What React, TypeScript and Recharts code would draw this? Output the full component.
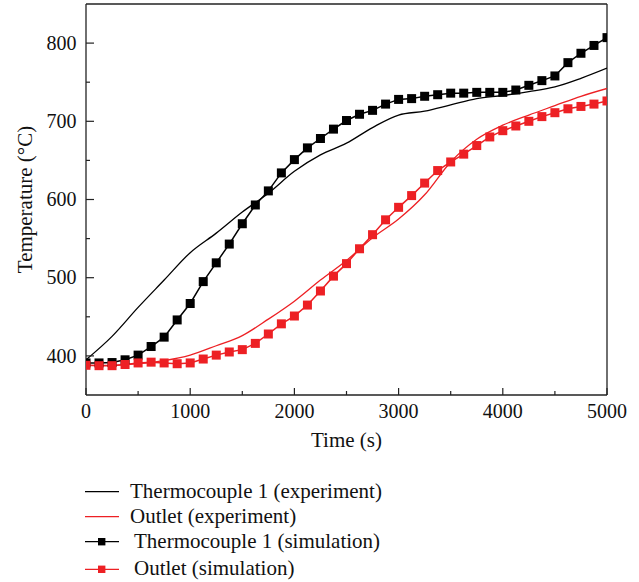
import {
  Legend,
  Line,
  LineChart,
  ReferenceLine,
  XAxis,
  YAxis,
} from 'recharts';

const FONT = '"Liberation Serif", "Times New Roman", serif';
const RED = '#ed2024';

// experiment curves, sampled every 250 s
const expTimes = [
  0, 250, 500, 750, 1000, 1250, 1500, 1750, 2000, 2250, 2500, 2750, 3000,
  3250, 3500, 3750, 4000, 4250, 4500, 4750, 5000,
];
const tc1Exp = [
  395, 425, 462, 497, 532, 557, 584, 608, 636, 657, 672, 692, 708, 713, 721,
  729, 733, 738, 744, 755, 768,
];
const outletExp = [
  388, 388, 390, 394, 401, 413, 426, 447, 470, 497, 522, 551, 575, 606, 648,
  677, 695, 708, 720, 732, 742,
];

// simulation curves, one marker every 125 s
const simTimes = [
  0, 125, 250, 375, 500, 625, 750, 875, 1000, 1125, 1250, 1375, 1500, 1625,
  1750, 1875, 2000, 2125, 2250, 2375, 2500, 2625, 2750, 2875, 3000, 3125, 3250,
  3375, 3500, 3625, 3750, 3875, 4000, 4125, 4250, 4375, 4500, 4625, 4750, 4875,
  5000,
];
const tc1Sim = [
  391, 391, 391.5, 395, 401, 412, 424, 446, 467, 495, 519, 543, 569, 593, 611,
  634, 651, 666, 678, 690, 701, 709, 714, 722, 728, 729, 732, 734, 736, 736,
  737, 737, 737, 740, 746, 752, 758, 775, 787, 797, 807,
];
const outletSim = [
  388, 387.5, 387.5, 389, 391, 392, 391, 390, 391, 396, 401, 405, 408, 416,
  428, 441, 451, 465, 483, 502, 518, 537, 555, 574, 590, 605, 621, 637, 648,
  658, 669, 680, 688, 694, 700, 706, 711, 716, 719, 722, 726,
];

const xTicks = [0, 500, 1000, 1500, 2000, 2500, 3000, 3500, 4000, 4500, 5000];
const yTicks = [400, 450, 500, 550, 600, 650, 700, 750, 800];

const legendItems = [
  { name: 'Thermocouple 1 (experiment)', color: '#000', marker: false },
  { name: 'Outlet (experiment)', color: RED, marker: false },
  { name: 'Thermocouple 1 (simulation)', color: '#000', marker: true },
  { name: 'Outlet (simulation)', color: RED, marker: true },
];

const toPoints = (ts: number[], vs: number[]) =>
  ts.map((t, i) => ({ t, v: vs[i] }));

const tc1ExpData = toPoints(expTimes, tc1Exp);
const outletExpData = toPoints(expTimes, outletExp);
const tc1SimData = toPoints(simTimes, tc1Sim);
const outletSimData = toPoints(simTimes, outletSim);

const squareDot = (color: string) => (p: any) => (
  <rect
    key={p.index}
    x={p.cx - 4.5}
    y={p.cy - 4.5}
    width={9}
    height={9}
    fill={color}
  />
);

const XTick = ({ x, y, payload }: any) => {
  const major = payload.value % 1000 === 0;
  return (
    <g>
      <line x1={x} x2={x} y1={y} y2={y - (major ? 7 : 4)} stroke="#222" strokeWidth={1.2} />
      {major && (
        <text x={x} y={y + 22.5} textAnchor="middle" fontSize={20} fontFamily={FONT} fill="#111">
          {payload.value}
        </text>
      )}
    </g>
  );
};

const YTick = ({ x, y, payload }: any) => {
  const major = payload.value % 100 === 0;
  return (
    <g>
      <line x1={x} x2={x + (major ? 8 : 4)} y1={y} y2={y} stroke="#222" strokeWidth={1.2} />
      {major && (
        <text x={x - 9.5} y={y + 6.7} textAnchor="end" fontSize={20} fontFamily={FONT} fill="#111">
          {payload.value}
        </text>
      )}
    </g>
  );
};

const LegendBox = () => (
  <svg width={639} height={112} style={{ display: 'block' }}>
    {legendItems.map((it, i) => {
      const cy = [21.7, 46.7, 71.7, 99.3][i];
      return (
        <g key={it.name}>
          <line x1={85} x2={119} y1={cy} y2={cy} stroke={it.color} strokeWidth={1.3} />
          {it.marker && (
            <rect x={98} y={cy - 3.7} width={7.4} height={7.4} fill={it.color} />
          )}
          <text
            x={it.marker ? 134 : 130}
            y={cy + 6}
            fontSize={21}
            fontFamily={FONT}
            fill="#111"
          >
            {it.name}
          </text>
        </g>
      );
    })}
  </svg>
);

export default function App() {
  return (
    <div style={{ position: 'absolute', left: 0, top: 0, width: 639, height: 582, background: '#fff' }}>
      <LineChart
        width={639}
        height={582}
        margin={{ top: 4, right: 32, left: 0, bottom: 132 }}
      >
        <XAxis
          dataKey="t"
          type="number"
          domain={[0, 5000]}
          ticks={xTicks}
          interval={0}
          height={55}
          tickSize={0}
          tickMargin={0}
          tickLine={false}
          tick={<XTick />}
          axisLine={{ stroke: '#222', strokeWidth: 1.3 }}
          allowDataOverflow
          label={{
            content: ({ viewBox }: any) => (
              <text
                x={viewBox.x + viewBox.width / 2}
                y={viewBox.y + 52}
                textAnchor="middle"
                fontSize={21}
                fontFamily={FONT}
                fill="#111"
              >
                Time (s)
              </text>
            ),
          }}
        />
        <YAxis
          type="number"
          domain={[350, 850]}
          ticks={yTicks}
          interval={0}
          width={86}
          tickSize={0}
          tickMargin={0}
          tickLine={false}
          tick={<YTick />}
          axisLine={{ stroke: '#222', strokeWidth: 1.3 }}
          allowDataOverflow
          label={{
            content: ({ viewBox }: any) => {
              const cx = viewBox.x + 25;
              const cy = viewBox.y + viewBox.height / 2;
              return (
                <text
                  x={cx}
                  y={cy}
                  transform={`rotate(-90, ${cx}, ${cy})`}
                  textAnchor="middle"
                  dominantBaseline="central"
                  fontSize={21}
                  fontFamily={FONT}
                  fill="#111"
                >
                  Temperature (°C)
                </text>
              );
            },
          }}
        />
        <ReferenceLine y={850} stroke="#222" strokeWidth={1.3} />
        <ReferenceLine x={5000} stroke="#222" strokeWidth={1.3} />
        <Line
          data={tc1ExpData}
          dataKey="v"
          type="monotone"
          stroke="#000"
          strokeWidth={1.3}
          dot={false}
          isAnimationActive={false}
        />
        <Line
          data={outletExpData}
          dataKey="v"
          type="monotone"
          stroke={RED}
          strokeWidth={1.3}
          dot={false}
          isAnimationActive={false}
        />
        <Line
          data={tc1SimData}
          dataKey="v"
          type="linear"
          stroke="#000"
          strokeWidth={1.5}
          dot={squareDot('#000')}
          isAnimationActive={false}
        />
        <Line
          data={outletSimData}
          dataKey="v"
          type="linear"
          stroke={RED}
          strokeWidth={1.5}
          dot={squareDot(RED)}
          isAnimationActive={false}
        />
        <Legend
          layout="vertical"
          align="center"
          verticalAlign="middle"
          wrapperStyle={{ left: 0, top: 470, width: 639 }}
          content={() => <LegendBox />}
        />
      </LineChart>
    </div>
  );
}
